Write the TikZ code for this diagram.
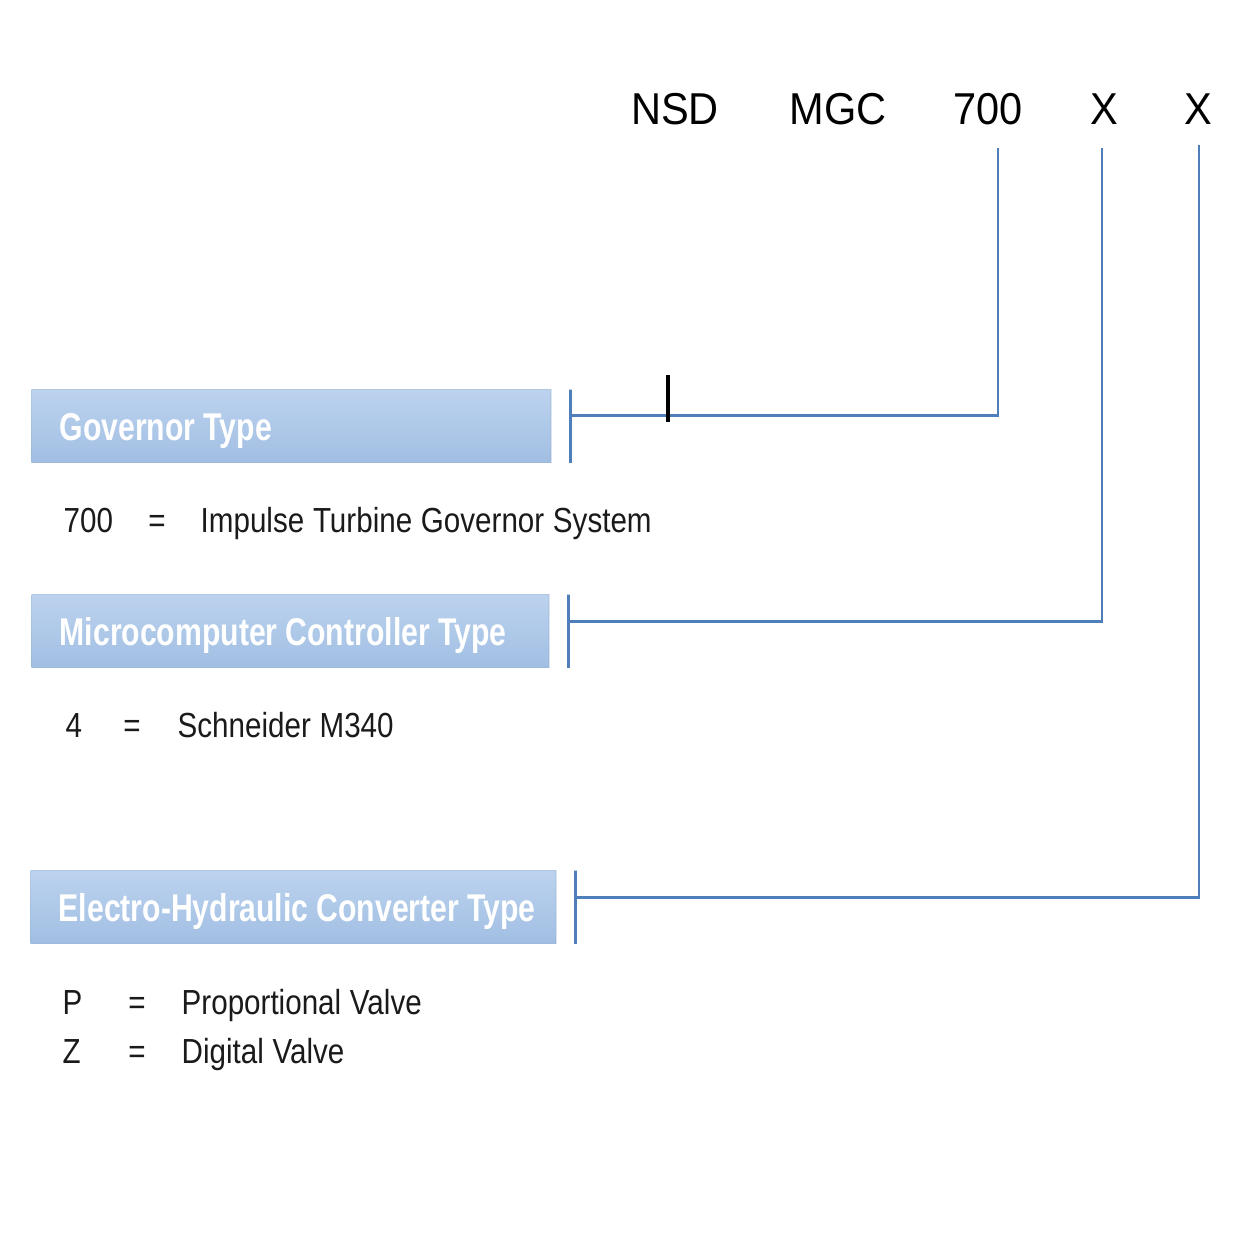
\documentclass[tikz,border=0pt]{standalone}
\usepackage{fontspec}
\setmainfont{Liberation Sans}
\newfontfamily\codefont{Liberation Sans}[FakeStretch=0.93]
\newfontfamily\narrowfont{Liberation Sans}[FakeStretch=0.85]
\newfontfamily\headfont{Liberation Sans}[FakeStretch=0.78]
\newcommand{\headsp}{\spaceskip=0.21em\relax}
\newcommand{\descsp}{\spaceskip=0.25em\relax}
\usepackage{tikz}
\usetikzlibrary{positioning}
\definecolor{linkblue}{HTML}{4F7FBA}
\definecolor{boxtop}{HTML}{BCD3EE}
\definecolor{boxbot}{HTML}{A1BEE3}
\definecolor{ink}{HTML}{1A1A1A}

\begin{document}
\begin{tikzpicture}[x=0.01cm, y=-0.01cm,
    code/.style={anchor=base, inner sep=0pt, font=\codefont\fontsize{12.7}{14}\selectfont, text=black},
    head/.style={anchor=north west, minimum height=0.73cm, inner xsep=0.28cm, inner ysep=0pt,
      text height=0.28cm, text depth=0pt, align=left, top color=boxtop, bottom color=boxbot,
      draw=boxbot!90!black, draw opacity=0.25, text=white,
      font=\headfont\bfseries\fontsize{11}{13}\selectfont, execute at begin node=\headsp},
    bar/.style={right=0.17cm of #1, minimum height=0.73cm, minimum width=0pt, inner sep=0pt,
      draw=linkblue, line width=1pt},
    desc/.style={anchor=base west, inner sep=0pt, text=ink,
      font=\narrowfont\fontsize{9.9}{12}\selectfont, execute at begin node=\descsp},
    eq/.style={anchor=base, inner sep=0pt, text=ink, font=\narrowfont\fontsize{9.9}{12}\selectfont},
    conn/.style={draw=linkblue, line width=0.8pt}]
  \useasboundingbox[fill=white] (0,0) rectangle (1254,1254);

  \node[code] (nsd) at (675,124) {NSD};
  \node[code] (mgc) at (838,124) {MGC};
  \node[code] (c700) at (988,124) {700};
  \node[code] (xa) at (1104,124) {X};
  \node[code] (xb) at (1198,124) {X};

  \node[head, text width=4.63cm] (gov) at (31,389) {\mbox{Governor Type}};
  \node[head, text width=4.61cm] (mcu) at (31,594) {\mbox{Microcomputer Controller Type}};
  \node[head, text width=4.69cm] (ehc) at (30,870) {\mbox{Electro-Hydraulic Converter Type}};

  \node[bar=gov] (govbar) {};
  \node[bar=mcu] (mcubar) {};
  \node[bar=ehc] (ehcbar) {};

  \coordinate (t700) at (998,148);
  \coordinate (txa) at (1102,148);
  \coordinate (txb) at (1199,145);

  \draw[conn] (t700) |- ([yshift=0.105cm]govbar.center);
  \draw[conn] (txa) |- ([yshift=0.1cm]mcubar.center);
  \draw[conn] (txb) |- ([yshift=0.1cm]ehcbar.center);
  \draw[line width=1pt, black] (668,375) -- (668,422);

  \node[desc] (k700) at (63,532) {700};
  \node[eq] (e700) at (157,532) {=};
  \node[desc] (v700) at (200,532) {Impulse Turbine Governor System};

  \node[desc] (k4) at (65,737) {4};
  \node[eq] (e4) at (132,737) {=};
  \node[desc] (v4) at (177,737) {Schneider M340};

  \node[desc] (kp) at (62,1014) {P};
  \node[eq] (ep) at (137,1014) {=};
  \node[desc] (vp) at (181,1014) {Proportional Valve};

  \node[desc] (kz) at (62,1063) {Z};
  \node[eq] (ez) at (137,1063) {=};
  \node[desc] (vz) at (181,1063) {Digital Valve};
\end{tikzpicture}
\end{document}
